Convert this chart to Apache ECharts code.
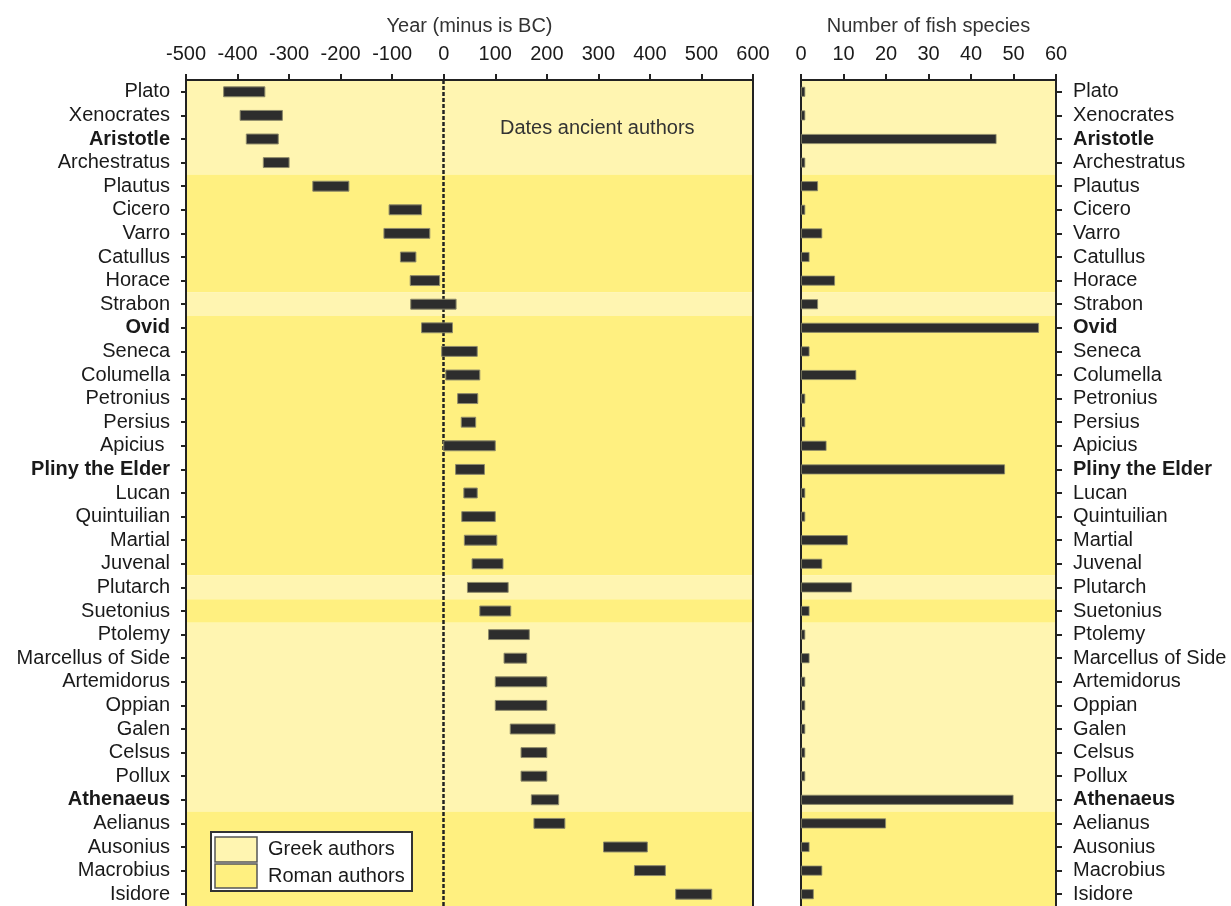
<!DOCTYPE html>
<html><head><meta charset="utf-8">
<script src="https://cdn.jsdelivr.net/npm/echarts@6/dist/echarts.min.js"></script>
<style>html,body{margin:0;padding:0;background:#fff}#c{width:1231px;height:906px}</style>
</head><body><div id="c"></div>
<script>
// ---- data ----
const authors = ['Plato','Xenocrates','Aristotle','Archestratus','Plautus','Cicero','Varro','Catullus','Horace','Strabon','Ovid','Seneca','Columella','Petronius','Persius','Apicius ','Pliny the Elder','Lucan','Quintuilian','Martial','Juvenal','Plutarch','Suetonius','Ptolemy','Marcellus of Side','Artemidorus','Oppian','Galen','Celsus','Pollux','Athenaeus','Aelianus','Ausonius','Macrobius','Isidore'];
const startYear = [-427,-395,-383,-350,-254,-106,-116,-84,-65,-64,-43,-4,4,27,34,0,23,39,35,40,55,46,70,87,117,100,100,129,150,150,170,175,310,370,450];
const endYear   = [-347,-313,-321,-300,-184,-43,-27,-54,-8,24,17,65,70,66,62,100,79,65,100,103,115,125,130,166,161,200,200,216,200,200,223,235,395,430,520];
const fishSpecies = [1,1,46,1,4,1,5,2,8,4,56,2,13,1,1,6,48,1,1,11,5,12,2,1,2,1,1,1,1,1,50,20,2,5,3];
const authorGroup = ['G','G','G','G','R','R','R','R','R','G','R','R','R','R','R','R','R','R','R','R','R','G','R','G','G','G','G','G','G','G','G','R','R','R','R'];
const boldAuthors = ['Aristotle','Ovid','Pliny the Elder','Athenaeus'];
const legendLabels = ['Greek authors','Roman authors'];

// ---- style ----
const FONT = '"Liberation Sans", Arial, Helvetica, sans-serif';
const GREEK = '#FFF5B1', ROMAN = '#FFF080';
const TXT = '#1a1a1a';
const bandColors = authorGroup.map(g => g === 'G' ? GREEK : ROMAN);
const labelFmt = v => boldAuthors.includes(v.trim()) ? '{b|' + v + '}' : v;
const rich = { b: { fontWeight: 'bold', fontSize: 20, fontFamily: FONT, color: TXT } };
const lineStyle = { color: '#222', width: 2 };

const chart = echarts.init(document.getElementById('c'));
chart.setOption({
  animation: false,
  backgroundColor: '#fff',
  textStyle: { fontFamily: FONT },
  grid: [
    { left: 186, top: 80, width: 567, height: 829 },
    { left: 801, top: 80, width: 255, height: 829 }
  ],
  xAxis: [
    { gridIndex: 0, type: 'value', position: 'top', min: -500, max: 600, interval: 100, z: 3,
      name: 'Year (minus is BC)', nameLocation: 'middle', nameGap: 44,
      nameTextStyle: { fontSize: 20, color: '#333', fontFamily: FONT },
      axisLine: { show: true, onZero: false, lineStyle }, axisTick: { show: true, length: 6, lineStyle },
      axisLabel: { fontSize: 20, color: TXT, margin: 16, fontFamily: FONT }, splitLine: { show: false } },
    { gridIndex: 1, type: 'value', position: 'top', min: 0, max: 60, interval: 10, z: 3,
      name: 'Number of fish species', nameLocation: 'middle', nameGap: 44,
      nameTextStyle: { fontSize: 20, color: '#333', fontFamily: FONT },
      axisLine: { show: true, onZero: false, lineStyle }, axisTick: { show: true, length: 6, lineStyle },
      axisLabel: { fontSize: 20, color: TXT, margin: 16, fontFamily: FONT }, splitLine: { show: false } }
  ],
  yAxis: [
    { gridIndex: 0, type: 'category', data: authors, inverse: true, position: 'left', z: 1,
      axisLine: { show: true, onZero: false, lineStyle },
      axisTick: { show: true, alignWithLabel: true, interval: 0, length: 5, lineStyle },
      axisLabel: { fontSize: 20, color: TXT, margin: 16, interval: 0, formatter: labelFmt, rich, fontFamily: FONT },
      splitLine: { show: false }, splitArea: { show: true, interval: 0, areaStyle: { color: bandColors } } },
    { gridIndex: 0, type: 'category', data: authors, inverse: true, position: 'right', z: 3,
      axisLine: { show: true, onZero: false, lineStyle }, axisTick: { show: false }, axisLabel: { show: false }, splitLine: { show: false } },
    { gridIndex: 1, type: 'category', data: authors, inverse: true, position: 'left', z: 3,
      axisLine: { show: true, onZero: false, lineStyle }, axisTick: { show: false }, axisLabel: { show: false },
      splitLine: { show: false } },
    { gridIndex: 1, type: 'category', data: authors, inverse: true, position: 'right', z: 1,
      axisLine: { show: true, onZero: false, lineStyle },
      axisTick: { show: true, alignWithLabel: true, interval: 0, length: 6, lineStyle },
      axisLabel: { fontSize: 20, color: TXT, margin: 17, interval: 0, formatter: labelFmt, rich, fontFamily: FONT },
      splitLine: { show: false }, splitArea: { show: true, interval: 0, areaStyle: { color: bandColors } } }
  ],
  series: [
    { type: 'custom', xAxisIndex: 0, yAxisIndex: 0, z: 5,
      data: authors.map((a, i) => [startYear[i], i, endYear[i]]),
      renderItem: function (params, api) {
        const i = api.value(1);
        const s = api.coord([api.value(0), i]);
        const e = api.coord([api.value(2), i]);
        const h = api.size([0, 1])[1] * 0.42;
        return { type: 'rect', shape: { x: s[0], y: s[1] - h / 2, width: e[0] - s[0], height: h },
                 style: { fill: '#2d2d2d', stroke: '#8d8a6a', lineWidth: 1 } };
      }
    },
    { type: 'line', xAxisIndex: 0, yAxisIndex: 0, data: [], z: 6,
      markLine: { silent: true, symbol: 'none', label: { show: false },
        lineStyle: { type: [4, 2], color: '#222', width: 2.5 }, data: [{ xAxis: 0 }] } },
    { type: 'bar', xAxisIndex: 1, yAxisIndex: 3, data: fishSpecies, barWidth: 10, z: 5,
      itemStyle: { color: '#2d2d2d', borderColor: '#8d8a6a', borderWidth: 0.8 } }
  ],
  graphic: [
    { type: 'text', x: 500, y: 128, z: 10,
      style: { text: 'Dates ancient authors', font: '20px ' + FONT, fill: '#333', verticalAlign: 'middle', align: 'left' } },
    { type: 'rect', shape: { x: 211, y: 832, width: 201, height: 59 }, z: 10,
      style: { fill: '#fff', stroke: '#333', lineWidth: 2 } },
    { type: 'rect', shape: { x: 215, y: 837, width: 42, height: 25 }, z: 11,
      style: { fill: GREEK, stroke: '#555', lineWidth: 1.5 } },
    { type: 'rect', shape: { x: 215, y: 864, width: 42, height: 24 }, z: 11,
      style: { fill: ROMAN, stroke: '#555', lineWidth: 1.5 } },
    { type: 'text', x: 268, y: 849, z: 11,
      style: { text: legendLabels[0], font: '20px ' + FONT, fill: TXT, verticalAlign: 'middle', align: 'left' } },
    { type: 'text', x: 268, y: 876, z: 11,
      style: { text: legendLabels[1], font: '20px ' + FONT, fill: TXT, verticalAlign: 'middle', align: 'left' } }
  ]
});
</script>
</body></html>
